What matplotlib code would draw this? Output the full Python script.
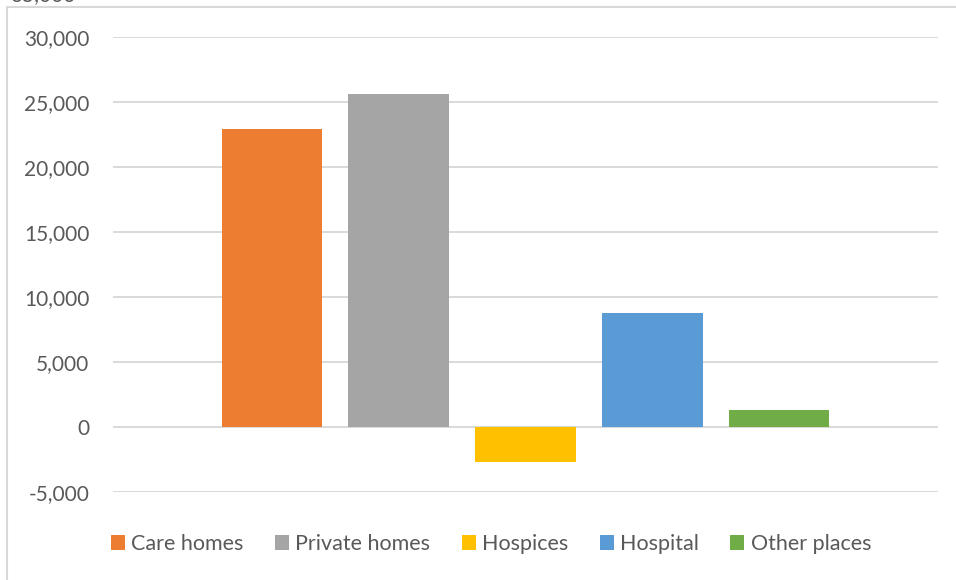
import matplotlib
matplotlib.use("Agg")
import matplotlib.pyplot as plt
from matplotlib.patches import Rectangle
from matplotlib.ticker import FuncFormatter

places = ["Care homes", "Private homes", "Hospices", "Hospital", "Other places"]
excess = [22900, 25600, -2730, 8800, 1300]
colors = ["#ED7D31", "#A5A5A5", "#FFC000", "#5B9BD5", "#70AD47"]
yticks = [-5000, 0, 5000, 10000, 15000, 20000, 25000, 30000]

plt.rcParams['font.family'] = ['Lato', 'DejaVu Sans']
text_grey = "#595959"

fig = plt.figure(figsize=(9.56, 5.8), dpi=100)
ax = fig.add_axes([113 / 956, 1 - 492 / 580, 825 / 956, 455 / 580])

# one series per place so each gets its own legend entry
for i, (name, val, c) in enumerate(zip(places, excess, colors)):
    ax.bar(i, val, width=0.79, color=c, label=name, zorder=3)

ax.set_xlim(-1.25, 5.25)
ax.set_ylim(-5000, 30000)
ax.set_yticks(yticks)
ax.yaxis.set_major_formatter(FuncFormatter(lambda v, p: f"{int(v):,}"))
ax.set_xticks([])
ax.grid(axis="y", color="#d9d9d9", linewidth=1.4, zorder=0)
ax.tick_params(axis="y", length=0, pad=17, labelsize=15, labelcolor=text_grey)
for s in ax.spines.values():
    s.set_visible(False)

fig.legend(loc="center", bbox_to_anchor=(491 / 956, 1 - 544 / 580), ncol=5,
           frameon=False, fontsize=15.5, labelcolor=text_grey,
           handlelength=0.65, handleheight=0.65, handletextpad=0.3,
           columnspacing=1.45)

# chart frame, cut off on the right and bottom
fig.patches.append(Rectangle((7 / 956, -0.05), 1.1, 1.05 - 7 / 580,
                             transform=fig.transFigure, fill=False,
                             edgecolor="#d9d9d9", linewidth=1.5))
# axis label of the chart above, mostly outside the canvas
fig.text(10 / 956, 1 - 1 / 580, "35,000", fontsize=15, color=text_grey,
         ha="left", va="baseline")

fig.savefig("out.png", dpi=100, facecolor="white")
